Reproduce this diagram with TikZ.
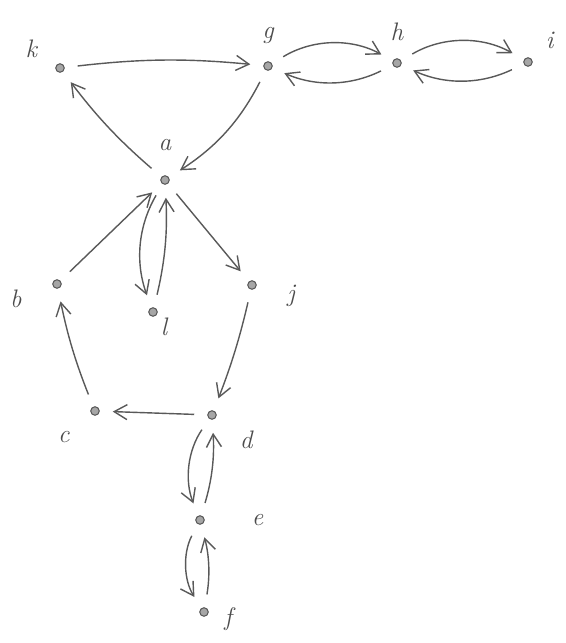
\documentclass[tikz,border=0pt]{standalone}
\usetikzlibrary{positioning,arrows.meta}

\begin{document}
\begin{tikzpicture}[
  font=\Large\itshape,
  >={Straight Barb[length=2.6mm,width=3mm]},
  vtx/.style={circle, draw=black!65, fill=black!35, line width=0.6pt,
              inner sep=0pt, minimum size=1.7mm},
  lbl/.style={text=black!70, inner sep=1pt},
  arc/.style={->, draw=black!65, line width=0.8pt, shorten >=2.6mm, shorten <=2.6mm},
]
% ---- canvas ----
\useasboundingbox (0,0) rectangle (11.32,-12.86);

% ---- vertices ----
\node[vtx] (k) at (1.20,-1.36)  {};
\node[vtx] (g) at (5.36,-1.32)  {};
\node[vtx] (h) at (7.94,-1.26)  {};
\node[vtx] (i) at (10.56,-1.24) {};
\node[vtx] (a) at (3.30,-3.60)  {};
\node[vtx] (b) at (1.14,-5.68)  {};
\node[vtx] (l) at (3.06,-6.24)  {};
\node[vtx] (j) at (5.04,-5.70)  {};
\node[vtx] (c) at (1.90,-8.22)  {};
\node[vtx] (d) at (4.24,-8.30)  {};
\node[vtx] (e) at (4.00,-10.40) {};
\node[vtx] (f) at (4.08,-12.24) {};

% ---- vertex names ----
\node[lbl, above left=0.1 and 0.35 of k] (kname) {k};
\node[lbl, above=0.3 of g]               (gname) {g};
\node[lbl, above=0.3 of h]               (hname) {h};
\node[lbl, above right=0.15 and 0.25 of i] (iname) {i};
\node[lbl, above=0.45 of a]              (aname) {a};
\node[lbl, below left=0.0 and 0.6 of b]  (bname) {b};
\node[lbl, below right=0.0 and 0.05 of l] (lname) {l};
\node[lbl, below right=-0.1 and 0.6 of j] (jname) {j};
\node[lbl, below left=0.3 and 0.4 of c]  (cname) {c};
\node[lbl, below right=0.2 and 0.45 of d] (dname) {d};
\node[lbl, right=0.9 of e]               (ename) {e};
\node[lbl, below right=-0.2 and 0.3 of f] (fname) {f};

% ---- top row ----
\draw[arc] (k) to[bend left=6] (g);
\draw[arc] (g) to[bend left=30] (h);
\draw[arc] (h) to[bend left=25] (g);
\draw[arc] (h) to[bend left=30] (i);
\draw[arc] (i) to[bend left=25] (h);

% ---- around a ----
\draw[arc] (g) to[bend left=15] (a);
\draw[arc] (a) to[bend left=6] (k);
\draw[arc] (a) to[bend right=25] (l);
\draw[arc] (l) to[bend right=8] (a);
\draw[arc] (a) -- (j);
\draw[arc] (b) -- (a);

% ---- lower cycle ----
\draw[arc] (j) to[bend left=4] (d);
\draw[arc] (d) -- (c);
\draw[arc] (c) to[bend left=5] (b);

% ---- tail d-e-f ----
\draw[arc] (d) to[bend right=28] (e);
\draw[arc] (e) to[bend right=10] (d);
\draw[arc] (e) to[bend right=30] (f);
\draw[arc] (f) to[bend right=12] (e);
\end{tikzpicture}
\end{document}
